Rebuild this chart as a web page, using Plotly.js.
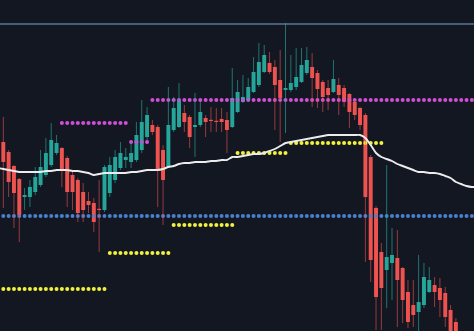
<!DOCTYPE html>
<html>
<head>
<meta charset="utf-8">
<script src="https://cdn.plot.ly/plotly-3.0.1.min.js"></script>
<style>html,body{margin:0;padding:0;background:#131722;}#chart{width:474px;height:331px;}</style>
</head>
<body>
<div id="chart"></div>
<script>
// ---- data (price units) ----
const openP  = [189,179,165,152,134,134,139,146,156,166,
                178,183,173,156,151,139,130,128,122,121,
                138,151,163,171,169,171,181,194,206,204,
                181,164,201,204,218,214,204,206,213,211,
                210,212,211,204,219,229,231,239,246,259,
                268,264,251,241,241,244,249,258,264,258,
                249,243,239,246,243,237,229,223,216,174,
                123,79,61,68,73,63,39,26,19,26,
                39,46,43,38,21,9];
const highP  = [214,181,166,153,143,151,164,181,193,208,
                196,184,175,159,153,148,139,133,151,166,
                174,181,189,183,189,209,231,224,211,206,
                186,244,234,248,226,216,238,229,216,224,
                223,223,219,263,251,256,253,274,288,286,
                279,271,281,308,276,283,283,284,278,261,
                251,251,271,253,246,238,231,224,218,176,
                125,88,166,103,101,64,51,51,76,68,
                64,54,53,44,26,13];
const lowP   = [123,134,103,89,121,124,136,144,154,164,
                176,144,124,121,109,109,118,99,79,119,
                134,148,161,163,163,169,178,191,196,124,
                106,163,199,203,199,183,174,204,194,199,
                199,199,178,203,218,228,229,238,244,258,
                257,201,189,198,239,241,248,256,224,223,
                219,221,238,216,224,203,211,201,69,49,
                1,1,23,31,4,8,3,4,-2,23,
                38,24,14,4,-15,-20];
const closeP = [169,149,138,116,136,144,154,164,178,191,
                188,161,139,139,118,121,126,109,121,164,
                166,174,178,174,178,196,209,216,199,161,
                151,206,223,231,209,194,206,219,209,210,
                209,209,201,233,239,234,244,259,269,276,
                259,246,233,243,248,254,266,271,253,242,
                234,236,252,236,229,219,216,206,134,71,
                34,43,74,76,51,31,9,16,29,54,
                51,39,31,14,-5,-10];

// moving average, candle index -1 .. 89
const maStart = -1;
const maValues = [163,162,161,160,159,159,159,159,159,160,160,
                  161,161,161,160,160,159,158,156,157,158,
                  158,158,158,158,159,159,160,161,161,161,
                  162,164,165,167,168,168,169,169,169,170,
                  170,171,171,174,174,175,176,177,177,178,
                  180,182,185,188,189,190,191,192,193,194,
                  195,196,196,196,196,196,196,196,193,186,
                  178,174,172,170,167,165,163,161,159,159,
                  158,158,157,155,153,149,147,145,144,144];

// dotted level segments (start index, end index, price)
const magentaStart = [11,24,28];
const magentaEnd   = [23,27,88];
const magentaLevel = [208,189,231];
const yellowStart  = [0,20,32,44,54];
const yellowEnd    = [19,31,43,53,71];
const yellowLevel  = [42,78,106,178,188];
const blueStart    = [0];
const blueEnd      = [88];
const blueLevel    = [115];
const topLevel     = 307;

// ---- build traces ----
const UP = '#26a69a', DOWN = '#ef5350';
const idx = openP.map((_, i) => i);

function levelDots(starts, ends, levels, color) {
  const x = [], y = [];
  starts.forEach((s, k) => {
    for (let i = s; i <= ends[k]; i++) { x.push(i); y.push(levels[k]); }
  });
  return {type:'scatter', mode:'markers', x, y, hoverinfo:'skip',
          marker:{color, size:4, symbol:'circle', line:{width:0}}};
}

const wickUp = {x:[], y:[]}, wickDn = {x:[], y:[]};
idx.forEach(i => {
  const w = closeP[i] >= openP[i] ? wickUp : wickDn;
  w.x.push(i, i, null); w.y.push(lowP[i], highP[i], null);
});

const bodyBase = idx.map(i => Math.min(openP[i], closeP[i]));
const bodyLen  = idx.map(i => Math.max(Math.abs(closeP[i] - openP[i]), 1.2));
const bodyCol  = idx.map(i => closeP[i] >= openP[i] ? UP : DOWN);

const maX = maValues.map((_, k) => maStart + k);

const traces = [
  {type:'scatter', mode:'lines', x:[-5, 95], y:[topLevel, topLevel],
   line:{color:'#587594', width:1.5}, hoverinfo:'skip'},
  levelDots(blueStart, blueEnd, blueLevel, '#4a80cc'),
  levelDots(yellowStart, yellowEnd, yellowLevel, '#f2f23a'),
  levelDots(magentaStart, magentaEnd, magentaLevel, '#d04fd6'),
  {type:'scatter', mode:'lines', x:wickUp.x, y:wickUp.y, connectgaps:false,
   line:{color:'rgba(38,166,154,0.65)', width:1}, hoverinfo:'skip'},
  {type:'scatter', mode:'lines', x:wickDn.x, y:wickDn.y, connectgaps:false,
   line:{color:'rgba(239,83,80,0.6)', width:1}, hoverinfo:'skip'},
  {type:'bar', x:idx, y:bodyLen, base:bodyBase, width:0.74,
   marker:{color:bodyCol, line:{width:0}}, hoverinfo:'skip'},
  {type:'scatter', mode:'lines', x:maX, y:maValues,
   line:{color:'#ececec', width:1.9, shape:'spline', smoothing:0.6}, hoverinfo:'skip'}
];

const layout = {
  width:474, height:331,
  margin:{l:0, r:0, t:0, b:0, pad:0},
  paper_bgcolor:'#131722', plot_bgcolor:'#131722',
  showlegend:false,
  xaxis:{range:[-0.62, 88.4], visible:false, showgrid:false, zeroline:false, fixedrange:true},
  yaxis:{range:[0, 331], visible:false, showgrid:false, zeroline:false, fixedrange:true}
};

Plotly.newPlot('chart', traces, layout, {displayModeBar:false, staticPlot:true});
</script>
</body>
</html>
